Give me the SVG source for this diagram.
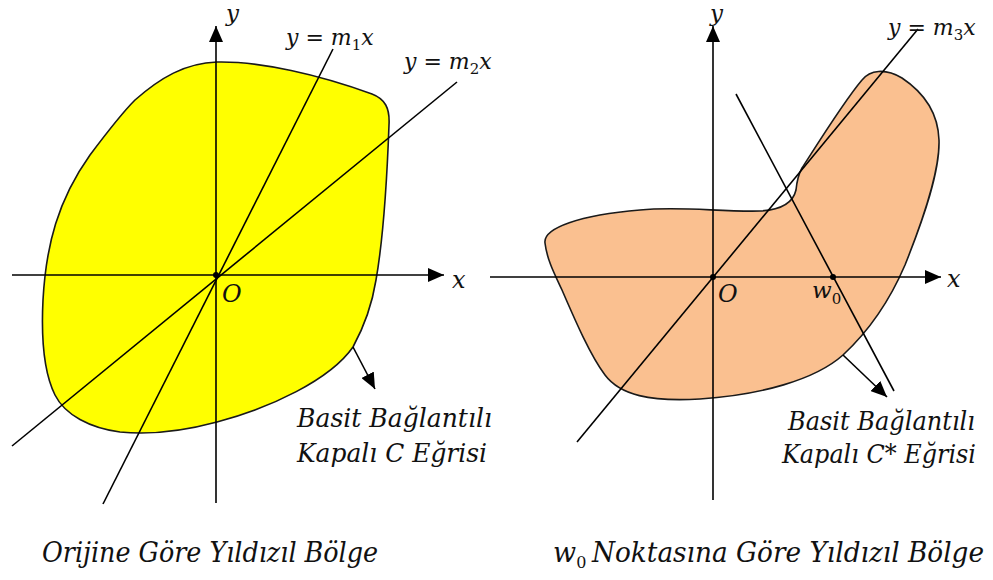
<svg xmlns="http://www.w3.org/2000/svg" width="993" height="580" viewBox="0 0 993 580">
<style>
.ln{stroke:#000;stroke-width:1.6;fill:none}
.ax{stroke:#000;stroke-width:1.6;fill:none;marker-end:url(#ah)}
.sh{stroke:#1a1a1a;stroke-width:1.6}
.lbl{font-family:"DejaVu Serif",serif;font-style:italic;fill:#111}
.up{font-style:normal}
</style>
<defs>
<marker id="ah" markerUnits="userSpaceOnUse" markerWidth="18" markerHeight="14" refX="16" refY="7" orient="auto">
<path d="M0,0 L16,7 L0,14 Z" fill="#000"/>
</marker>
</defs>
<rect width="993" height="580" fill="#fff"/>

<g id="regionC">
<path class="sh" fill="#ffff00" d="M217,62 C260,61 320,75 372,94 C385,99 390,108 389,125 C387,180 383,240 376,280 C372,305 365,325 353,347 C330,380 270,408 217,422 C180,432 150,435 120,432 C90,428 65,415 55,395 C45,375 41,340 43,300 C46,245 58,200 90,155 C105,135 120,115 135,100 C160,78 185,63 217,62 Z"/>
</g>

<g id="regionCstar">
<path class="sh" fill="#fac090" d="M545,243 C543,228 580,215 640,210 C680,206 720,212 760,211 C780,210 793,203 796,190 C797,180 798,175 802,168 C820,140 845,100 862,80 C870,70 885,68 902,78 C920,90 938,110 939,140 C940,170 925,215 905,265 C890,300 870,330 843,355 C815,380 760,395 700,399 C650,402 620,395 605,375 C590,355 575,320 562,290 C555,275 547,260 545,243 Z"/>
</g>

<g id="connectors">
<line class="ax" x1="12" y1="275" x2="444" y2="275"/>
<line class="ax" x1="216" y1="503" x2="216" y2="26"/>
<line class="ln" x1="333" y1="49" x2="103" y2="504"/>
<line class="ln" x1="457" y1="82" x2="12" y2="446"/>
<line class="ax" x1="353" y1="347" x2="375" y2="389"/>
<circle cx="216" cy="275" r="3" fill="#000"/>
<line class="ax" x1="490" y1="277" x2="941" y2="277"/>
<line class="ax" x1="713" y1="500" x2="713" y2="26"/>
<line class="ln" x1="918" y1="29" x2="577" y2="442"/>
<line class="ln" x1="736" y1="94" x2="894" y2="391"/>
<line class="ax" x1="843" y1="355" x2="887" y2="397"/>
<circle cx="713" cy="277" r="3" fill="#000"/>
<circle cx="833" cy="277" r="3" fill="#000"/>
</g>

<g id="labels-left">
<text class="lbl" x="226" y="21" font-size="23">y</text>
<text class="lbl" x="452" y="288" font-size="24">x</text>
<text class="lbl" x="222" y="302" font-size="24">O</text>
<text class="lbl" x="286" y="45" font-size="22">y <tspan class="up">=</tspan> m<tspan class="up" font-size="15" dy="5">1</tspan><tspan dy="-5">x</tspan></text>
<text class="lbl" x="404" y="69" font-size="22">y <tspan class="up">=</tspan> m<tspan class="up" font-size="15" dy="5">2</tspan><tspan dy="-5">x</tspan></text>
<text class="lbl" x="297" y="427" font-size="26" textLength="195" lengthAdjust="spacingAndGlyphs">Basit Bağlantılı</text>
<text class="lbl" x="297" y="462" font-size="26" textLength="190" lengthAdjust="spacingAndGlyphs">Kapalı C Eğrisi</text>
<text class="lbl" x="42" y="562" font-size="27" textLength="336" lengthAdjust="spacingAndGlyphs">Orijine Göre Yıldızıl Bölge</text>
</g>

<g id="labels-right">
<text class="lbl" x="710" y="21" font-size="23">y</text>
<text class="lbl" x="947" y="287" font-size="24">x</text>
<text class="lbl" x="718" y="302" font-size="24">O</text>
<text class="lbl" x="812" y="298" font-size="23">w<tspan class="up" font-size="15" dy="6">0</tspan></text>
<text class="lbl" x="888" y="35" font-size="22">y <tspan class="up">=</tspan> m<tspan class="up" font-size="15" dy="5">3</tspan><tspan dy="-5">x</tspan></text>
<text class="lbl" x="788" y="430" font-size="26" textLength="187" lengthAdjust="spacingAndGlyphs">Basit Bağlantılı</text>
<text class="lbl" x="782" y="463" font-size="26" textLength="194" lengthAdjust="spacingAndGlyphs">Kapalı C* Eğrisi</text>
<text class="lbl" x="553" y="562" font-size="27">w<tspan class="up" font-size="16" dy="6">0</tspan></text>
<text class="lbl" x="592" y="562" font-size="27" textLength="392" lengthAdjust="spacingAndGlyphs">Noktasına Göre Yıldızıl Bölge</text>
</g>
</svg>
